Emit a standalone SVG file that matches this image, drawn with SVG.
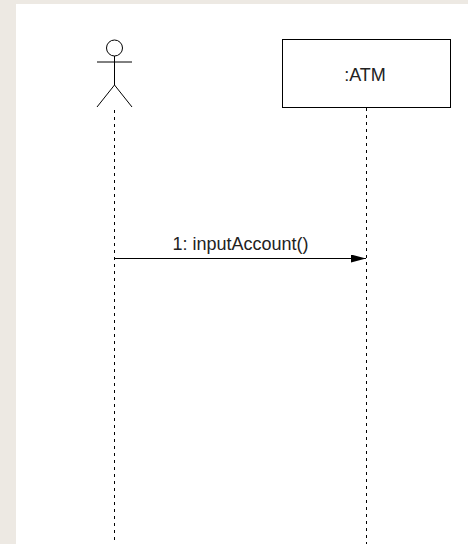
<svg xmlns="http://www.w3.org/2000/svg" width="468" height="544" viewBox="0 0 468 544">
<style>
.ln{stroke:#000;stroke-width:1;fill:none}
.life{stroke:#000;stroke-width:1;stroke-dasharray:3 4;fill:none}
.lbl{font-family:"Liberation Sans",Arial,sans-serif;fill:#222;font-size:18px}
</style>
<defs>
<marker id="arr" viewBox="0 0 10 10" refX="10" refY="5" markerWidth="15" markerHeight="8" markerUnits="userSpaceOnUse" orient="auto" preserveAspectRatio="none">
<path d="M0,0 L10,5 L0,10 Z" fill="#000"/>
</marker>
</defs>
<rect x="0" y="0" width="468" height="544" fill="#ede9e3"/>
<rect x="16" y="4" width="452" height="540" fill="#ffffff"/>
<g id="actor">
<circle class="ln" cx="114.5" cy="48" r="8"/>
<line class="ln" x1="114.5" y1="56" x2="114.5" y2="85"/>
<line class="ln" x1="97" y1="62" x2="132" y2="62"/>
<line class="ln" x1="114.5" y1="85" x2="97" y2="107"/>
<line class="ln" x1="114.5" y1="85" x2="132" y2="107"/>
</g>
<g id="atm">
<rect x="282.5" y="39.5" width="168" height="68" fill="#fff" stroke="#000" stroke-width="1"/>
<text class="lbl" x="365" y="81" text-anchor="middle">:ATM</text>
</g>
<g id="connectors">
<line class="life" x1="114.5" y1="110" x2="114.5" y2="544"/>
<line class="life" x1="366.5" y1="108" x2="366.5" y2="544"/>
<line class="ln" x1="115" y1="258.5" x2="366" y2="258.5" marker-end="url(#arr)"/>
<text class="lbl" x="240.5" y="250" text-anchor="middle">1: inputAccount()</text>
</g>
</svg>
